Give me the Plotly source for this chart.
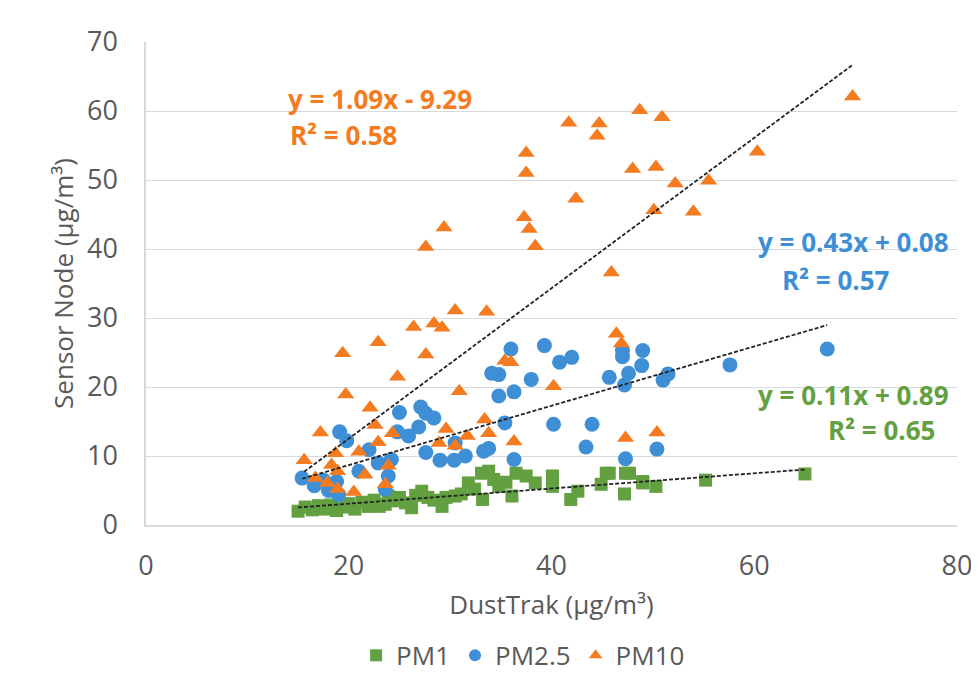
import plotly.graph_objects as go

# ---- data ----
pm1_x = [15.0, 15.7, 16.4, 17.0, 17.6, 18.2, 18.8, 19.4, 20.0, 20.6, 21.3, 21.9, 22.5, 23.0, 23.6, 23.9,
         24.5, 25.0, 25.6, 26.2, 26.6, 27.2, 27.8, 28.4, 29.2, 29.6, 30.5, 31.1, 31.8, 32.4, 33.1, 33.2,
         33.8, 34.3, 34.8, 35.5, 36.1, 36.5, 37.5, 38.4, 40.1, 40.1, 41.9, 42.6, 44.9, 45.4, 45.7, 47.2,
         47.3, 47.7, 49.0, 49.0, 50.3, 55.2, 65.0]
pm1_y = [2.0, 2.6, 2.2, 2.8, 2.3, 2.9, 2.1, 2.6, 3.1, 2.3, 3.3, 2.7, 3.6, 2.7, 3.0, 4.2,
         3.5, 4.0, 3.2, 2.5, 4.3, 4.9, 4.0, 3.6, 2.7, 4.0, 4.2, 4.5, 6.1, 5.2, 7.5, 3.7,
         7.8, 6.6, 5.6, 6.2, 4.2, 7.5, 7.1, 6.1, 7.1, 5.6, 3.7, 4.9, 5.9, 7.5, 7.5, 4.5,
         7.5, 7.5, 6.1, 6.3, 5.6, 6.5, 7.4]

pm25_x = [15.4, 16.6, 17.5, 18.0, 18.8, 19.0, 19.1, 19.8, 21.0, 22.0, 22.9, 23.6, 23.9, 24.2, 24.8, 25.0,
          25.9, 26.9, 27.1, 27.6, 27.6, 28.4, 29.0, 30.4, 30.5, 31.5, 33.3, 33.8, 34.1, 34.8, 34.8, 35.4,
          36.0, 36.3, 36.3, 38.0, 39.3, 40.2, 40.8, 42.0, 43.4, 44.0, 45.7, 47.0, 47.0, 47.2, 47.3, 47.6,
          48.9, 49.0, 50.4, 51.0, 51.5, 57.6, 67.2]
pm25_y = [6.8, 5.7, 6.5, 5.0, 6.3, 4.4, 13.5, 12.2, 7.8, 10.9, 9.0, 5.2, 7.1, 9.5, 13.5, 16.3,
          12.9, 14.2, 17.1, 16.2, 10.5, 15.5, 9.4, 9.4, 11.9, 10.0, 10.7, 11.1, 22.0, 21.8, 18.7, 14.8,
          25.5, 19.3, 9.5, 21.1, 26.0, 14.6, 23.6, 24.3, 11.3, 14.6, 21.4, 24.4, 25.3, 20.3, 9.6, 22.0,
          23.1, 25.3, 11.0, 21.0, 21.9, 23.2, 25.5]

pm10_x = [15.6, 16.7, 17.2, 17.9, 18.3, 18.7, 18.9, 18.9, 19.4, 19.7, 20.5, 21.0, 21.6, 22.1, 22.6, 22.9,
          22.9, 23.6, 23.9, 24.3, 24.8, 26.4, 27.6, 27.6, 28.4, 28.9, 29.2, 29.4, 29.6, 30.5, 30.5, 30.9,
          31.7, 33.4, 33.6, 33.8, 35.4, 36.0, 36.3, 37.3, 37.5, 37.5, 37.8, 38.4, 40.2, 41.7, 42.4, 44.5,
          44.7, 45.9, 46.4, 46.9, 47.3, 48.0, 48.7, 50.1, 50.3, 50.4, 50.9, 52.2, 54.0, 55.5, 60.3, 69.7]
pm10_y = [9.4, 6.8, 13.4, 6.1, 8.7, 10.4, 7.8, 5.2, 24.9, 18.9, 4.8, 10.6, 7.3, 17.0, 14.5, 12.0,
          26.5, 5.9, 8.6, 13.3, 21.5, 28.7, 24.7, 40.3, 29.2, 11.9, 28.6, 43.1, 13.9, 31.1, 11.5, 19.4,
          12.9, 15.3, 30.9, 13.3, 23.8, 23.6, 12.1, 44.6, 51.0, 53.9, 42.9, 40.4, 20.1, 58.3, 47.3, 56.4,
          58.2, 36.6, 27.7, 26.3, 12.6, 51.6, 60.1, 45.6, 51.9, 13.4, 59.1, 49.5, 45.4, 49.9, 54.1, 62.1]

# trendline coefficients shown on the chart
fits = {
    "PM1": (0.11, 0.89, "0.65"),
    "PM2.5": (0.43, 0.08, "0.57"),
    "PM10": (1.09, -9.29, "0.58"),
}

x_ticks = [0, 20, 40, 60, 80]
y_ticks = [0, 10, 20, 30, 40, 50, 60, 70]

GREEN = "#63A041"
BLUE = "#3F8FD6"
ORANGE = "#F47B20"
GRAY = "#595959"
FONT = "Open Sans, sans-serif"

fig = go.Figure()

series = [
    ("PM1", pm1_x, pm1_y, GREEN, "square", 13),
    ("PM2.5", pm25_x, pm25_y, BLUE, "circle", 15),
    ("PM10", pm10_x, pm10_y, ORANGE, "triangle-up", 15),
]
for name, xs, ys, col, sym, sz in series:
    fig.add_trace(go.Scatter(x=xs, y=ys, mode="markers", name=name,
                             marker=dict(color=col, symbol=sym, size=sz, line=dict(width=0))))

# trendlines (drawn from coefficients over data x-range)
for name, xs, ys, col, sym, sz in series:
    a, b, r2 = fits[name]
    x0, x1 = min(xs), max(xs)
    fig.add_trace(go.Scatter(x=[x0, x1], y=[a * x0 + b, a * x1 + b], mode="lines",
                             line=dict(color="#222222", width=1.8, dash="4px,2px"),
                             showlegend=False, hoverinfo="skip"))

def eq(a, b):
    sign = "+" if b >= 0 else "-"
    return f"y = {a:.2f}x {sign} {abs(b):.2f}"

ann_font = dict(family=FONT, size=26)
labels = [
    ("PM10", ORANGE, (13.8, 61.7), (14.0, 56.5)),
    ("PM2.5", BLUE, (60.2, 41.0), (62.5, 35.5)),
    ("PM1", GREEN, (60.2, 18.9), (67.1, 13.8)),
]
for name, col, p1, p2 in labels:
    a, b, r2 = fits[name]
    fig.add_annotation(x=p1[0], y=p1[1], xref="x", yref="y", text=f"<b>{eq(a, b)}</b>",
                       showarrow=False, xanchor="left", yanchor="middle",
                       font=dict(color=col, **ann_font))
    fig.add_annotation(x=p2[0], y=p2[1], xref="x", yref="y", text=f"<b>R² = {r2}</b>",
                       showarrow=False, xanchor="left", yanchor="middle",
                       font=dict(color=col, **ann_font))

fig.update_layout(
    width=971, height=683,
    margin=dict(l=138, r=22, t=34, b=163),
    paper_bgcolor="white", plot_bgcolor="white",
    font=dict(family=FONT, size=26, color=GRAY),
    xaxis=dict(range=[0, 80], tickvals=x_ticks, showgrid=False, zeroline=False,
               showline=True, linecolor="#D9D9D9", linewidth=1.5, ticks="",
               ticklabelstandoff=16, tickfont=dict(size=27, color=GRAY), automargin=False,
               title=dict(text="DustTrak (µg/m³)", font=dict(size=26, color=GRAY), standoff=14)),
    yaxis=dict(range=[0, 70], tickvals=y_ticks, showgrid=True, gridcolor="#D9D9D9", gridwidth=1.2,
               zeroline=False, showline=True, linecolor="#D9D9D9", linewidth=1.5, ticks="",
               ticklabelstandoff=21, tickfont=dict(size=27, color=GRAY), automargin=False,
               title=dict(text="Sensor Node (µg/m³)", font=dict(size=26, color=GRAY), standoff=6)),
    legend=dict(orientation="h", x=0.465, xanchor="center", y=-0.27, yanchor="middle",
                font=dict(size=26, color=GRAY), itemsizing="constant"),
    showlegend=True,
)

fig.write_html("out.html")
